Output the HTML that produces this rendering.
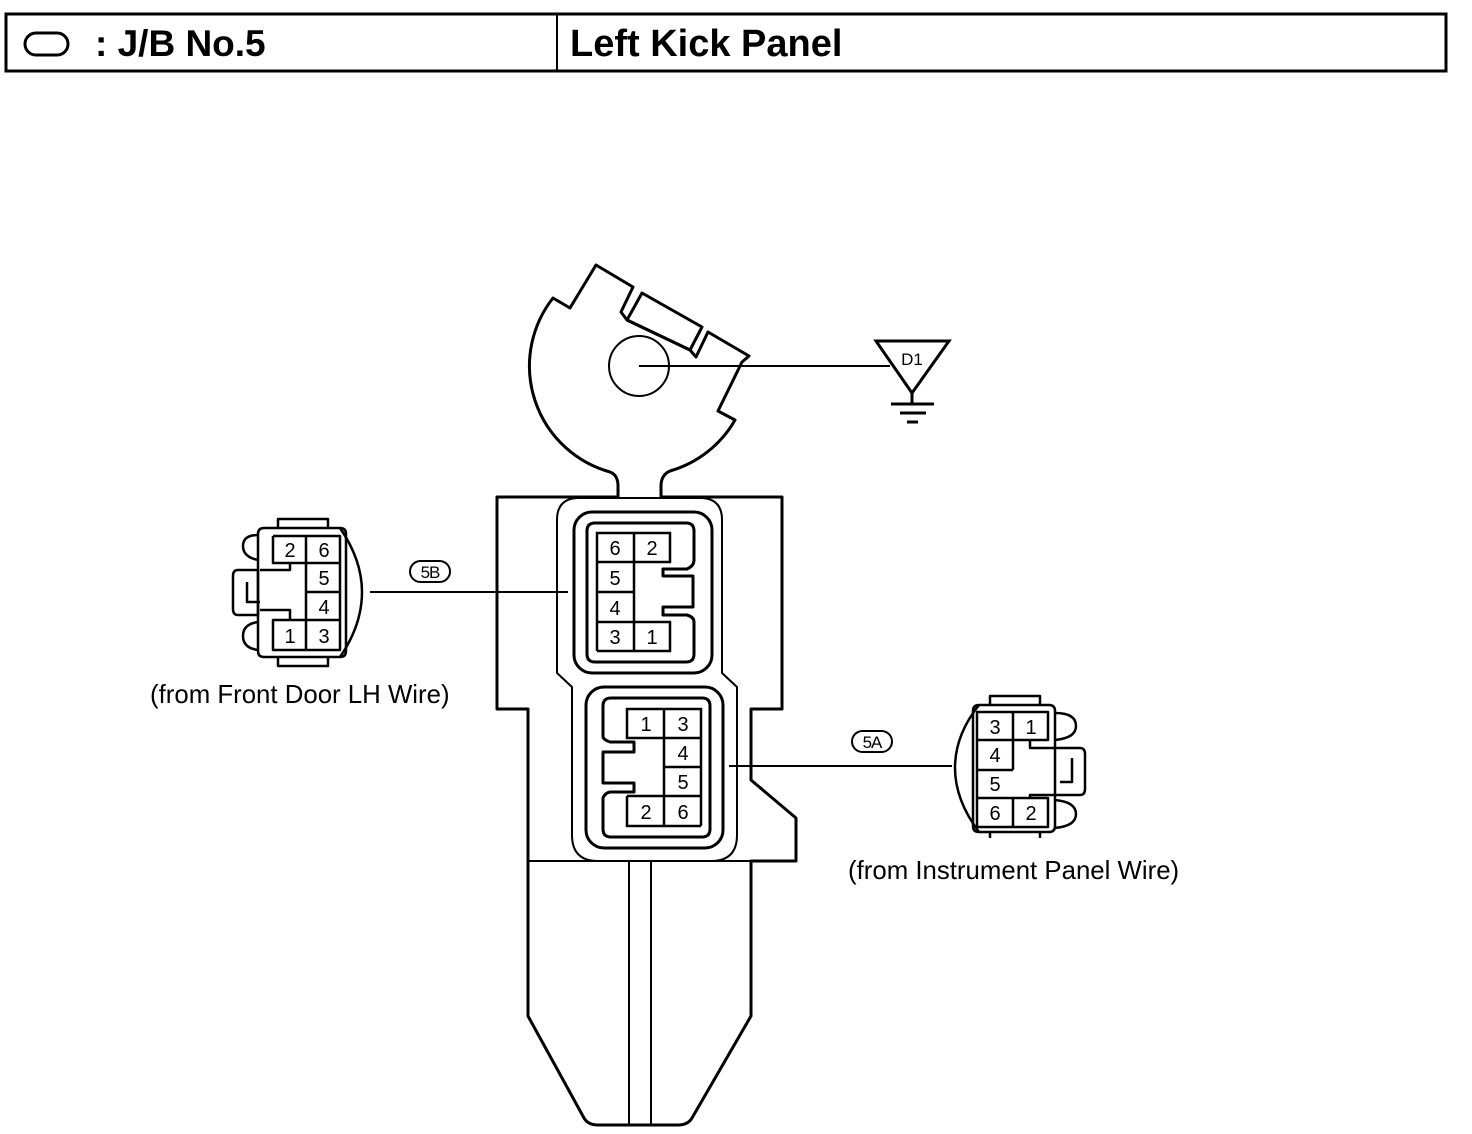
<!DOCTYPE html>
<html><head><meta charset="utf-8"><style>
html,body{margin:0;padding:0;background:#fff;}
svg{display:block;font-family:"Liberation Sans",Arial,sans-serif;}
</style></head><body>
<svg width="1472" height="1134" viewBox="0 0 1472 1134" xmlns="http://www.w3.org/2000/svg">
<g fill="none" stroke="#000">
<rect x="6" y="14" width="1440" height="57" stroke-width="3"/>
<line x1="557" y1="14" x2="557" y2="71" stroke-width="2"/>
<rect x="25" y="33" width="43" height="22" rx="11" stroke-width="3"/>
</g>
<text x="95" y="56" font-size="37" font-weight="bold">: J/B No.5</text>
<text x="570" y="56" font-size="38" font-weight="bold">Left Kick Panel</text>

<g fill="none" stroke="#000" stroke-width="3" stroke-linejoin="round">
<path d="M618,497 L618,486 Q618,475 610,472 A110 110 0 0 1 553,298 L570,308 L596,265 L633,287 L621,312 L627,320 L690,350 L696,357 L708,332 L749,356 L742,362 L718,411 L735,420 A110 110 0 0 1 670,471 Q661,475 661,486 L661,497"/>
<path d="M642,293 L702,327 L690,350 L627,320 Z"/>
<circle cx="639" cy="366" r="30" stroke-width="2"/>
<path d="M618,497 L497,497 L497,709 L528,709 L528,1016 L584,1118 Q588,1125 598,1125 L678,1125 Q688,1125 692,1118 L751,1016 L751,861 L796,861 L796,818 L751,780 L751,709 L782,709 L782,497 L661,497"/>
<line x1="528" y1="861" x2="751" y2="861" stroke-width="2"/>
<line x1="629" y1="861" x2="629" y2="1125" stroke-width="2"/>
<line x1="651" y1="861" x2="651" y2="1125" stroke-width="2"/>
<path d="M557,673 L557,520 Q557,498 579,498 L700,498 Q722,498 722,520 L722,673 L737,687 L737,835 Q737,861 711,861 L598,861 Q572,861 572,835 L572,687 Z" stroke-width="2"/>
<rect x="574" y="512" width="138" height="161" rx="18"/>
<path d="M595,523 L686,523 Q694,523 694,531 L694,560 Q694,566 687,569 L663,569 L663,576 L693,576 L693,607 L663,607 L663,615 L687,615 Q694,617 694,622 L694,654 Q694,662 686,662 L595,662 Q587,662 587,654 L587,531 Q587,523 595,523 Z"/>
<rect x="586" y="687" width="137" height="161" rx="18"/>
<path d="M611,698 L702,698 Q710,698 710,706 L710,829 Q710,837 702,837 L611,837 Q603,837 603,829 L603,798 Q605,793 610,792 L634,792 L634,783 L603,783 L603,752 L634,752 L634,742 L610,742 Q604,740 603,737 L603,706 Q603,698 611,698 Z"/>
</g>
<g fill="none" stroke="#000" stroke-width="2.5">
<path d="M597,533 H670 V562 H597 Z M634,533 V562 M597,562 V651 M634,562 V651 M597,592 H634 M597,622 H670 V651 H597"/>
<path d="M627,709 H701 V738 H627 Z M664,709 V826 M701,738 V826 M664,767 H701 M664,796 H701 M627,796 V826 H701 M627,796 H664"/>
</g>
<g font-size="20" text-anchor="middle">
<text x="615" y="555">6</text><text x="652" y="555">2</text>
<text x="615" y="585">5</text><text x="615" y="615">4</text>
<text x="615" y="644">3</text><text x="652" y="644">1</text>
<text x="646" y="731">1</text><text x="683" y="731">3</text>
<text x="683" y="760">4</text><text x="683" y="789">5</text>
<text x="646" y="819">2</text><text x="683" y="819">6</text>
</g>

<g stroke="#000" stroke-width="2" fill="none">
<line x1="639" y1="366" x2="890" y2="366"/>
<line x1="370" y1="592" x2="568" y2="592"/>
<line x1="729" y1="766" x2="952" y2="766"/>
<path d="M876,341 L949,341 L912,393 Z" stroke-width="3"/>
<line x1="912" y1="393" x2="912" y2="403" stroke-width="3"/>
<line x1="891" y1="404" x2="934" y2="404" stroke-width="3"/>
<line x1="900" y1="413" x2="926" y2="413" stroke-width="3"/>
<line x1="907" y1="422" x2="918" y2="422" stroke-width="3"/>
<rect x="410" y="561" width="40" height="21" rx="10.5"/>
<rect x="852" y="731" width="40" height="21" rx="10.5"/>
</g>
<text x="912" y="365" font-size="17" text-anchor="middle">D1</text>
<text x="430" y="578" font-size="17" text-anchor="middle" letter-spacing="-1">5B</text>
<text x="872" y="748" font-size="17" text-anchor="middle" letter-spacing="-1">5A</text>

<g fill="none" stroke="#000" stroke-width="2.5" stroke-linejoin="round">
<path d="M278,528 V519 H328 V528 M278,657 V666 H328 V657"/>
<path d="M264,528 H340 Q346,528 346,534 V651 Q346,657 340,657 H264 Q258,657 258,651 V534 Q258,528 264,528 Z"/>
<path d="M340,528 Q362,560 362,592 Q362,625 340,657"/>
<path d="M258,535 Q243,535 243,546 Q243,557 258,560 M258,622 Q243,624 243,636 Q243,648 258,650"/>
<path d="M258,570 H238 Q233,570 233,576 V609 Q233,615 238,615 H258 Z M247,582 V602 H260"/>
<path d="M260,570 L290,570 V563 M260,610 L290,610 V620"/>
<path d="M273,536 H340 V650 H273 V620 H340 M273,536 V563 H340 M306,536 V650 M306,592 H340"/>
</g>
<g font-size="20" text-anchor="middle">
<text x="290" y="557">2</text><text x="324" y="557">6</text>
<text x="324" y="585">5</text><text x="324" y="614">4</text>
<text x="290" y="643">1</text><text x="324" y="643">3</text>
</g>
<text x="150" y="703" font-size="25.8">(from Front Door LH Wire)</text>

<g fill="none" stroke="#000" stroke-width="2.5" stroke-linejoin="round">
<path d="M990,705 V696 H1040 V705 M990,832 V838 M1040,832 V838"/>
<path d="M979,705 H1049 Q1055,705 1055,711 V826 Q1055,832 1049,832 H979 Q973,832 973,826 V711 Q973,705 979,705 Z"/>
<path d="M979,705 Q955,735 955,768 Q955,800 979,832"/>
<path d="M1055,713 Q1076,713 1076,726 Q1076,738 1055,740 M1055,800 Q1076,802 1076,814 Q1076,826 1055,828"/>
<path d="M1050,748 H1080 Q1085,748 1085,754 V789 Q1085,795 1080,795 H1050 M1072,758 V782 H1060"/>
<path d="M1050,748 H1030 V740 M1050,795 H1030 V798"/>
<path d="M977,712 H1048 V740 H977 Z M1013,712 V740 M977,740 V827 M1013,740 V770 M977,770 H1013 M977,798 H1048 V827 H977 M1013,798 V827"/>
</g>
<g font-size="20" text-anchor="middle">
<text x="995" y="734">3</text><text x="1031" y="734">1</text>
<text x="995" y="762">4</text><text x="995" y="791">5</text>
<text x="995" y="820">6</text><text x="1031" y="820">2</text>
</g>
<text x="848" y="879" font-size="25.8">(from Instrument Panel Wire)</text>
</svg>
</body></html>
